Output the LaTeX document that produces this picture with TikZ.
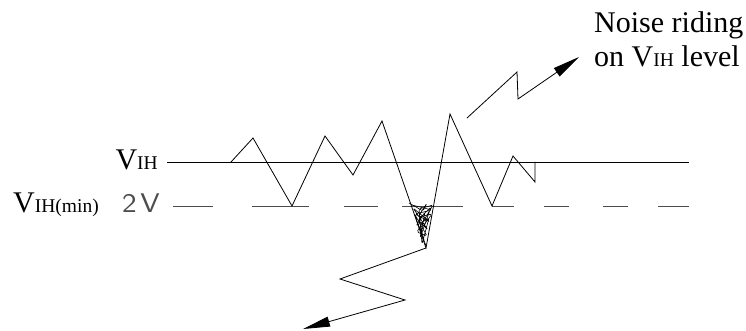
\documentclass[tikz,border=0pt]{standalone}
\usepackage{fontspec}
\setmainfont{Liberation Serif}
\usetikzlibrary{arrows.meta}
\tikzset{
  level/.style={line width=0.9pt},
  minlevel/.style={line width=0.9pt, black!70},
  noise/.style={line width=0.8pt, line join=miter},
  scribble/.style={line width=0.6pt, line join=round, rounded corners=1.5pt},
  pointer/.style={line width=0.8pt, -{Triangle[length=27pt,width=10pt]}},
  lbl/.style={inner sep=0pt, font=\fontsize{30}{34}\selectfont},
}
\newcommand{\subcaps}[1]{{\fontsize{19.5}{22}\selectfont #1}}

\begin{document}
\begin{tikzpicture}[x=1pt,y=-1pt]
\useasboundingbox (0,0) rectangle (746,331);
% level labels
\node[lbl, anchor=base east] (vih) at (158,170) {V\subcaps{IH}};
\node[lbl, anchor=base west] (vihmin) at (13,212) {V\subcaps{IH(min)}};
\node[inner sep=0pt, anchor=base west, xscale=1.15, text=black!70,
  font=\sffamily\fontsize{27}{28}\selectfont] (twov) at (122,212) {2\hspace{3pt}V};
% levels
\draw[level] (167,162) -- (689,162);
\foreach \a/\b in {173/213, 252/309, 344/378, 402/463, 492/514, 544/569, 603/628, 658/689}
  \draw[minlevel] (\a,206) -- (\b,206);
% noise
\draw[noise] (231,162) -- (253,138) -- (292,206) -- (325,136) -- (353,175)
  -- (382,121) -- (426,248) -- (450,114) -- (492,206) -- (513,156)
  -- (535,182) -- (535,162);
% glitch below the min level
\draw[scribble] (412,205) -- (432,210) -- (415,214) -- (430,222) -- (413,208)
  -- (428,230) -- (418,220) -- (431,207) -- (420,238) -- (425,212)
  -- (416,226) -- (429,218) -- (422,244) -- (419,209) -- (433,205)
  -- (417,232) -- (427,236) -- (414,213) -- (426,246);
\draw[scribble] (409,203) -- (423,211) -- (427,203) -- (418,217) -- (432,214)
  -- (421,229) -- (424,240);
% callouts
\node[lbl, anchor=base west] (riding) at (594,33) {Noise riding};
\node[lbl, anchor=base west] (onvih) at (594,67) {on V\subcaps{IH} level};
\coordinate (upfrom) at (467,118);
\coordinate (upto) at (579,57);
\draw[pointer] (upfrom) -- (517,72) -- (518,99) -- (upto);
\coordinate (downfrom) at (426,248);
\coordinate (downto) at (303,329);
\draw[pointer] (downfrom) -- (340,279) -- (405,300) -- (downto);
\end{tikzpicture}
\end{document}
